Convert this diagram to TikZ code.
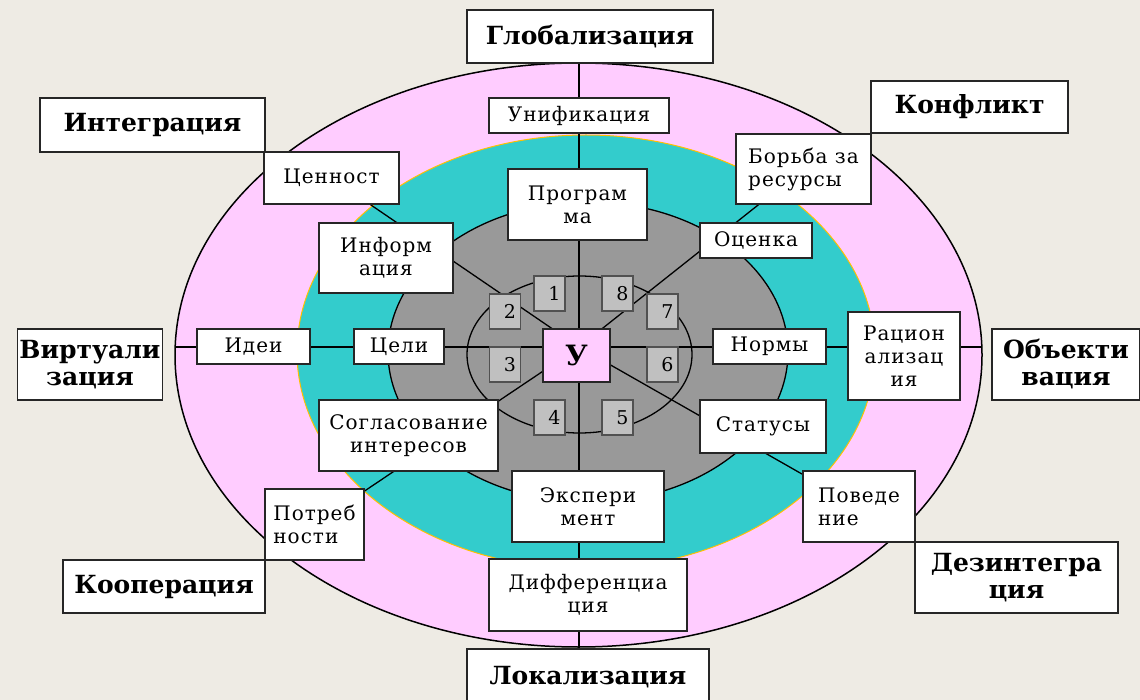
\documentclass[tikz,border=0pt]{standalone}
\usepackage{fontspec}
\setmainfont{DejaVu Serif}
\usetikzlibrary{backgrounds}
\definecolor{paper}{HTML}{EEEBE4}
\definecolor{rimpink}{HTML}{FFCCFF}
\definecolor{midteal}{HTML}{33CCCC}
\definecolor{coregray}{HTML}{999999}
\definecolor{cellgray}{HTML}{C0C0C0}
\definecolor{tealedge}{HTML}{FFC000}
\definecolor{boxline}{HTML}{262626}
\tikzset{
	ring box/.style={
		draw=boxline,
		fill=white,
		line width=1.5pt,
		align=center,
		inner sep=2pt,
		font=\fontsize{20}{23}\selectfont\addfontfeatures{LetterSpace=5}
	},
	pole box/.style={
		ring box,
		font=\bfseries\fontsize{25}{27}\selectfont
	},
	sector cell/.style={
		draw=boxline!80,
		fill=cellgray,
		line width=1.2pt,
		minimum width=31pt,
		minimum height=35pt,
		text width=22pt,
		align=right,
		inner sep=3pt,
		font=\fontsize{19}{20}\selectfont
	},
	box size/.style 2 args={minimum width=#1pt, minimum height=#2pt},
	spoke/.style={draw=black, line width=1.3pt},
}

\begin{document}
\begin{tikzpicture}[x=1pt, y=-1pt]

\useasboundingbox (0,0) rectangle (1140,700);

\coordinate (hub) at (579,347);
\coordinate (rim-w) at (175,347);
\coordinate (rim-e) at (982,347);

% axis boxes
\node [pole box, box size={246}{53}] (globalization) at (590,36.5) {Глобализация};
\node [ring box, box size={180}{35}] (unification) at (579,115.5) {Унификация};
\node [ring box, box size={139}{71}] (program) at (577.5,204.5) {Програм\\ма};
\node [ring box, box size={152}{71}] (experiment) at (588,506.5) {Экспери\\мент};
\node [ring box, box size={198}{72}] (differentiation) at (588,595) {Дифференциа\\ция};
\node [pole box, box size={242}{56}] (localization) at (588,677) {Локализация};

\node [pole box, box size={144}{71}] (virtualization) at (90,364.5) {Виртуали\\зация};
\node [ring box, box size={113}{35}] (ideas) at (253.5,346.5) {Идеи};
\node [ring box, box size={90}{35}] (goals) at (399,346.5) {Цели};
\node [ring box, box size={113}{35}] (norms) at (769.5,346.5) {Нормы};
\node [ring box, box size={112}{88}] (rationalization) at (904,356) {Рацион\\ализац\\ия};
\node [pole box, box size={148}{71}] (objectivation) at (1066,364.5) {Объекти\\вация};

% diagonal boxes
\node [pole box, box size={225}{54}] (integration) at (152.5,125) {Интеграция};
\node [ring box, box size={135}{52}] (value) at (331.5,178) {Ценност};
\node [ring box, box size={134}{70}] (information) at (386,258) {Информ\\ация};

\node [pole box, box size={197}{52}] (conflict) at (969.5,107) {Конфликт};
\node [ring box, box size={135}{70}, align=left] (struggle) at (803.5,169) {Борьба за\\ресурсы};
\node [ring box, box size={112}{35}] (assessment) at (756,240.5) {Оценка};

\node [ring box, box size={179}{71}] (agreement) at (408.5,435.5) {Согласование\\интересов};
\node [ring box, box size={99}{71}, align=left] (needs) at (314.5,524.5) {Потреб\\ности};
\node [pole box, box size={202}{53}] (cooperation) at (164,586.5) {Кооперация};

\node [ring box, box size={126}{53}] (statuses) at (763,426.5) {Статусы};
\node [ring box, box size={112}{71}, align=left] (behaviour) at (859,506.5) {Поведе\\ние};
\node [pole box, box size={203}{71}] (disintegration) at (1016.5,577.5) {Дезинтегра\\ция};

% inner cells
\foreach \n/\px/\py in {1/549.5/293.5, 2/505/311.5, 3/505/364.5, 4/549.5/417.5,
		5/617.5/417.5, 6/662.5/364.5, 7/662.5/311.5, 8/617.5/293.5}
	\node [sector cell] (cell-\n) at (\px,\py) {\n};

\node [ring box, fill=rimpink, box size={67}{53},
	font=\bfseries\fontsize{28}{30}\selectfont] (core) at (576.5,355.5) {У};

\begin{scope}[on background layer]
	\fill [paper] (0,0) rectangle (1140,700);
	\filldraw [fill=rimpink, draw=black, line width=1.5pt]
		(578.5,355) ellipse [x radius=403.5pt, y radius=292pt];
	\filldraw [fill=midteal, draw=tealedge, line width=1pt]
		(586,352) ellipse [x radius=289pt, y radius=217pt];
	\filldraw [fill=coregray, draw=black, line width=1.3pt]
		(588,352) ellipse [x radius=200pt, y radius=150pt];
	\draw [line width=1.3pt]
		(579.5,354.5) ellipse [x radius=112.5pt, y radius=78.5pt];

	\draw [spoke] (hub |- globalization.south) -- (hub |- localization.north);
	\draw [spoke] (rim-w) -- (rim-e);
	\foreach \t in {value, struggle, needs, behaviour}
		\draw [spoke] (hub) -- (\t);
\end{scope}

\end{tikzpicture}
\end{document}
